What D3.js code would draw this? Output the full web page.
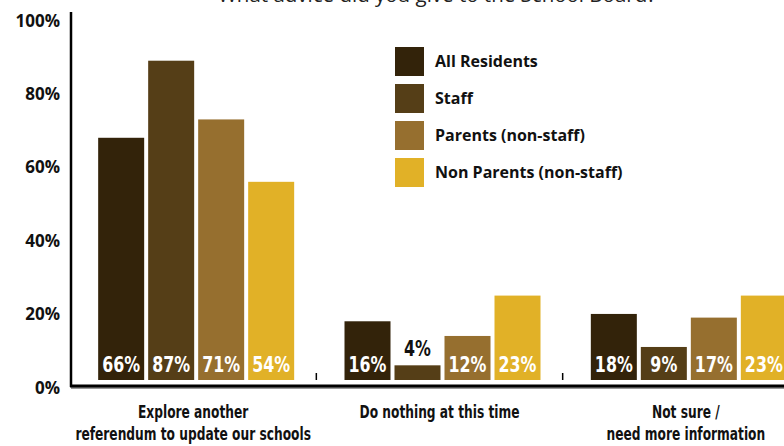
<!DOCTYPE html>
<html>
<head>
<meta charset="utf-8">
<script src="https://cdn.jsdelivr.net/npm/d3@7"></script>
<style>
  body { margin: 0; background: #fff; }
  svg { display: block; }
</style>
</head>
<body>
<div id="chart"></div>
<script>
const WIDTH = 784;
const HEIGHT = 446;

// data
const categories = [
  ["Explore another", "referendum to update our schools"],
  ["Do nothing at this time"],
  ["Not sure /", "need more information"]
];
const seriesNames = ["All Residents", "Staff", "Parents (non-staff)", "Non Parents (non-staff)"];
const seriesColors = ["#33230a", "#553e17", "#966f2f", "#e1b127"];
const allResidents = [66, 16, 18];
const staff = [87, 4, 9];
const parents = [71, 12, 17];
const nonParents = [54, 23, 23];
const yTicks = [0, 20, 40, 60, 80, 100];

const values = [allResidents, staff, parents, nonParents];
const condensed = "'DejaVu Sans Condensed', 'Liberation Sans Narrow', sans-serif";
const regular = "'Open Sans', 'Noto Sans', 'DejaVu Sans', sans-serif";

const svg = d3.select("#chart").append("svg")
    .attr("width", WIDTH)
    .attr("height", HEIGHT);

const x0 = d3.scaleBand()
    .domain(d3.range(categories.length))
    .range([71, 810]);

const x1 = d3.scaleBand()
    .domain(d3.range(seriesNames.length))
    .range([0, 196])
    .paddingInner(0.08)
    .paddingOuter(0);

const groupOffset = (x0.bandwidth() - 196) / 2 + 2;

const y = d3.scaleLinear().domain([0, 100]).range([380, 13]);

// title, clipped at the top like the reference
svg.append("text")
    .attr("x", 437)
    .attr("y", 2)
    .attr("text-anchor", "middle")
    .style("font-family", regular)
    .style("font-size", "20.5px")
    .style("fill", "#222")
    .text("What advice did you give to the School Board?");

// bars
const groups = svg.selectAll(".group")
    .data(categories)
    .enter().append("g")
    .attr("transform", (d, i) => `translate(${x0(i) + groupOffset},0)`);

groups.each(function(cat, ci) {
    const g = d3.select(this);
    seriesNames.forEach((s, si) => {
        const v = values[si][ci];
        g.append("rect")
            .attr("x", x1(si))
            .attr("width", x1.bandwidth())
            .attr("y", y(v))
            .attr("height", y(0) - y(v))
            .attr("fill", seriesColors[si]);
        const small = (y(0) - y(v)) < 22;
        const ty = small ? y(v) - 9 : 372;
        g.append("text")
            .attr("transform", `translate(${x1(si) + x1.bandwidth() / 2},${ty}) scale(0.84,1)`)
            .attr("text-anchor", "middle")
            .style("font-family", condensed)
            .style("font-weight", "bold")
            .style("font-size", "21px")
            .style("fill", small ? "#111" : "#fff")
            .text(v + "%");
    });
});

// axes
svg.append("line")
    .attr("x1", 71).attr("x2", 784)
    .attr("y1", 388).attr("y2", 388)
    .attr("stroke", "#999").attr("stroke-width", 2);
svg.append("line")
    .attr("x1", 70).attr("x2", 784)
    .attr("y1", 386).attr("y2", 386)
    .attr("stroke", "#000").attr("stroke-width", 3);
svg.append("line")
    .attr("x1", 71).attr("x2", 71)
    .attr("y1", 12).attr("y2", 387)
    .attr("stroke", "#000").attr("stroke-width", 2.5);

// separators between groups
svg.selectAll(".sep")
    .data(d3.range(1, categories.length))
    .enter().append("line")
    .attr("x1", d => x0(d) - 1).attr("x2", d => x0(d) - 1)
    .attr("y1", 373).attr("y2", 380)
    .attr("stroke", "#000").attr("stroke-width", 1.5);

svg.selectAll(".ytick")
    .data(yTicks)
    .enter().append("text")
    .attr("x", 60)
    .attr("y", d => y(d) + 13.5)
    .attr("text-anchor", "end")
    .style("font-family", regular)
    .style("font-weight", "bold")
    .style("font-size", "17px")
    .style("fill", "#111")
    .text(d => d + "%");

// category labels
const catLabels = svg.selectAll(".cat")
    .data(categories)
    .enter().append("text")
    .attr("transform", (d, i) => `translate(${x0(i) + x0.bandwidth() / 2 - 1},418) scale(0.8,1)`)
    .attr("text-anchor", "middle")
    .style("font-family", condensed)
    .style("font-weight", "bold")
    .style("font-size", "17px")
    .style("fill", "#111");
catLabels.selectAll("tspan")
    .data(d => d)
    .enter().append("tspan")
    .attr("x", 0)
    .attr("y", (d, i) => i * 22)
    .text(d => d);

// legend
const legend = svg.selectAll(".legend")
    .data(seriesNames)
    .enter().append("g")
    .attr("transform", (d, i) => `translate(395,${47 + i * 37})`);
legend.append("rect")
    .attr("width", 29).attr("height", 29)
    .attr("fill", (d, i) => seriesColors[i]);
legend.append("text")
    .attr("x", 40).attr("y", 20)
    .style("font-family", regular)
    .style("font-weight", "bold")
    .style("font-size", "16px")
    .style("fill", "#111")
    .text(d => d);
</script>
</body>
</html>
